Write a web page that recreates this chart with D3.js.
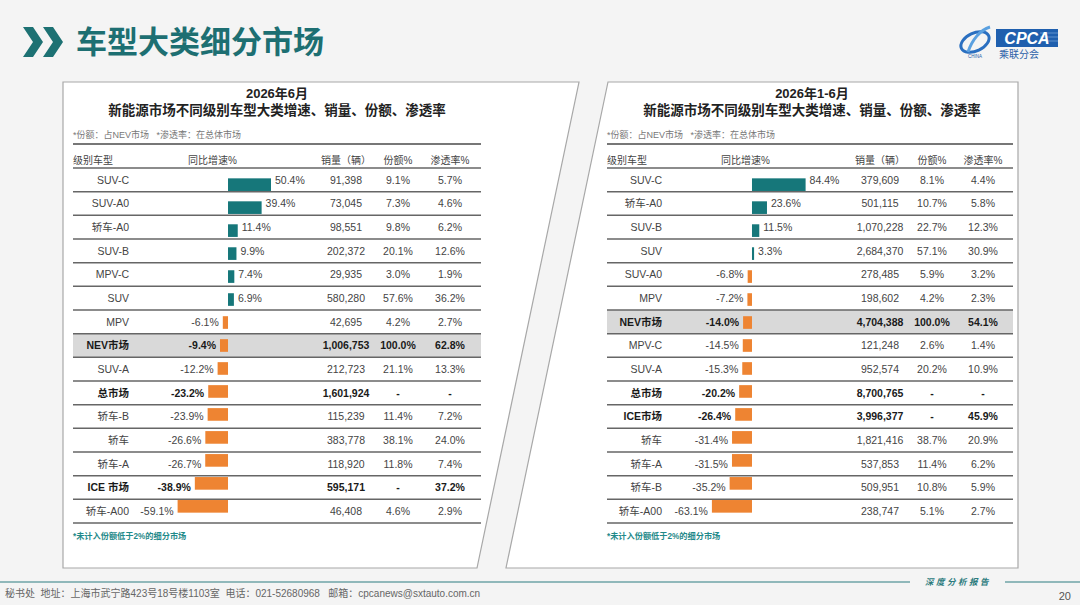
<!DOCTYPE html>
<html>
<head>
<meta charset="utf-8">
<script src="https://cdn.jsdelivr.net/npm/d3@7"></script>
<style>
  html, body { margin: 0; padding: 0; background: #f4f4f4; }
  svg { display: block; }
</style>
</head>
<body>
<div id="chart-container"></div>
<script>
// June 2026
const leftCategories = ["SUV-C", "SUV-A0", "轿车-A0", "SUV-B", "MPV-C", "SUV", "MPV", "NEV市场", "SUV-A", "总市场", "轿车-B", "轿车", "轿车-A", "ICE 市场", "轿车-A00"];
const leftGrowth = [50.4, 39.4, 11.4, 9.9, 7.4, 6.9, -6.1, -9.4, -12.2, -23.2, -23.9, -26.6, -26.7, -38.9, -59.1];
const leftSales = [91398, 73045, 98551, 202372, 29935, 580280, 42695, 1006753, 212723, 1601924, 115239, 383778, 118920, 595171, 46408];
const leftShare = [9.1, 7.3, 9.8, 20.1, 3.0, 57.6, 4.2, 100.0, 21.1, null, 11.4, 38.1, 11.8, null, 4.6];
const leftPenetration = [5.7, 4.6, 6.2, 12.6, 1.9, 36.2, 2.7, 62.8, 13.3, null, 7.2, 24.0, 7.4, 37.2, 2.9];

// Jan-Jun 2026
const rightCategories = ["SUV-C", "轿车-A0", "SUV-B", "SUV", "SUV-A0", "MPV", "NEV市场", "MPV-C", "SUV-A", "总市场", "ICE市场", "轿车", "轿车-A", "轿车-B", "轿车-A00"];
const rightGrowth = [84.4, 23.6, 11.5, 3.3, -6.8, -7.2, -14.0, -14.5, -15.3, -20.2, -26.4, -31.4, -31.5, -35.2, -63.1];
const rightSales = [379609, 501115, 1070228, 2684370, 278485, 198602, 4704388, 121248, 952574, 8700765, 3996377, 1821416, 537853, 509951, 238747];
const rightShare = [8.1, 10.7, 22.7, 57.1, 5.9, 4.2, 100.0, 2.6, 20.2, null, null, 38.7, 11.4, 10.8, 5.1];
const rightPenetration = [4.4, 5.8, 12.3, 30.9, 3.2, 2.3, 54.1, 1.4, 10.9, null, 45.9, 20.9, 6.2, 5.9, 2.7];

const headers = ["级别车型", "同比增速%", "销量（辆）", "份额%", "渗透率%"];
const boldRows = ["NEV市场", "总市场", "ICE 市场", "ICE市场"];
const highlightRow = "NEV市场";

const W = 1080, H = 605;
const teal = "#16777a", orange = "#ee8432";
const fontCN = "'Liberation Sans', 'Noto Sans CJK SC', sans-serif";

const svg = d3.select("#chart-container").append("svg")
    .attr("width", W)
    .attr("height", H)
    .style("font-family", fontCN);

svg.append("rect").attr("width", W).attr("height", H).attr("fill", "#f4f4f4");

// page title with chevrons
[0, 20].forEach(dx => {
    svg.append("polygon")
        .attr("points", [[23, 27], [33, 27], [43, 42], [33, 57], [23, 57], [33, 42]].map(p => [p[0] + dx, p[1]].join(",")).join(" "))
        .attr("fill", "#1d7173");
});
svg.append("text")
    .attr("x", 76).attr("y", 53)
    .attr("font-size", 31).attr("font-weight", "bold")
    .attr("fill", "#1d6f72")
    .attr("font-family", "'Noto Sans CJK SC', sans-serif")
    .text("车型大类细分市场");

// logo (rough)
const logo = svg.append("g");
logo.append("ellipse").attr("cx", 975).attr("cy", 42).attr("rx", 15).attr("ry", 9)
    .attr("fill", "none").attr("stroke", "#2a6fc0").attr("stroke-width", 3)
    .attr("transform", "rotate(-25 975 42)");
logo.append("path").attr("d", "M968,52 C972,40 980,30 990,27").attr("fill", "none").attr("stroke", "#5aa0e0").attr("stroke-width", 3);
logo.append("text").attr("x", 975).attr("y", 58).attr("text-anchor", "middle").attr("font-size", 4.5).attr("fill", "#2a5fa8").text("CHINA");
logo.append("rect").attr("x", 996).attr("y", 29).attr("width", 62).attr("height", 18).attr("fill", "#1f5fae");
[33, 37, 41].forEach(y => logo.append("line").attr("x1", 1040).attr("x2", 1058).attr("y1", y).attr("y2", y).attr("stroke", "#6f9fd6").attr("stroke-width", 0.8));
logo.append("text").attr("x", 1027).attr("y", 44).attr("text-anchor", "middle")
    .attr("font-size", 16).attr("font-style", "italic").attr("font-weight", "bold").attr("fill", "#fff").text("CPCA");
logo.append("text").attr("x", 999).attr("y", 58).attr("font-size", 10).attr("fill", "#2a5fa8")
    .attr("font-family", "'Noto Sans CJK SC', sans-serif").text("乘联分会");

// panels
const panelTop = 82, panelBottom = 568;
svg.append("polygon")
    .attr("points", `63,${panelTop} 579,${panelTop} 477,${panelBottom} 63,${panelBottom}`)
    .attr("fill", "#fff").attr("stroke", "#a8a8a8").attr("stroke-width", 1.2);
svg.append("polygon")
    .attr("points", `608,${panelTop} 1018,${panelTop} 1018,${panelBottom} 506,${panelBottom}`)
    .attr("fill", "#fff").attr("stroke", "#a8a8a8").attr("stroke-width", 1.2);

function drawPanel(cfg) {
    const g = svg.append("g");
    const tableTop = 168, tableBottom = 523;
    const fs = 10.5;

    g.append("text").attr("x", cfg.center).attr("y", 98).attr("text-anchor", "middle")
        .attr("font-size", 13).attr("font-weight", "bold").attr("fill", "#222").text(cfg.title1);
    g.append("text").attr("x", cfg.center).attr("y", 115).attr("text-anchor", "middle")
        .attr("font-size", 13.5).attr("font-weight", "bold").attr("fill", "#222")
        .attr("font-family", "'Noto Sans CJK SC', sans-serif")
        .text("新能源市场不同级别车型大类增速、销量、份额、渗透率");
    g.append("text").attr("x", cfg.x0).attr("y", 138)
        .attr("font-size", 9).attr("fill", "#777").attr("xml:space", "preserve")
        .text("*份额：占NEV市场   *渗透率：在总体市场");

    // header
    g.append("line").attr("x1", cfg.x0).attr("x2", cfg.x1).attr("y1", 144).attr("y2", 144)
        .attr("stroke", "#4a4a4a").attr("stroke-width", 1.5);
    const hx = [cfg.x0, cfg.colGrowthHead, cfg.colSales, cfg.colShare, cfg.colPen];
    const ha = ["start", "start", "middle", "middle", "middle"];
    headers.forEach((h, i) => {
        g.append("text").attr("x", hx[i]).attr("y", 164).attr("text-anchor", ha[i])
            .attr("font-size", 10).attr("fill", "#444").text(h);
    });

    const yRow = d3.scaleBand().domain(cfg.categories).range([tableTop, tableBottom]);
    const yBar = d3.scaleBand().domain(cfg.categories).range([tableTop, tableBottom]).padding(0.45);
    const x = d3.scaleLinear().domain(cfg.domain).range(cfg.range);

    const rows = cfg.categories.map((c, i) => ({
        cat: c, growth: cfg.growth[i], sales: cfg.sales[i], share: cfg.share[i], pen: cfg.pen[i]
    }));

    // highlight
    g.append("rect").attr("x", cfg.x0).attr("width", cfg.x1 - cfg.x0)
        .attr("y", yRow(highlightRow)).attr("height", yRow.bandwidth())
        .attr("fill", "#d9d9d9");

    // separators
    g.selectAll(".sep").data([tableTop].concat(cfg.categories.map(c => yRow(c) + yRow.bandwidth())))
        .enter().append("line")
        .attr("x1", cfg.x0).attr("x2", cfg.x1)
        .attr("y1", d => d).attr("y2", d => d)
        .attr("stroke", "#666").attr("stroke-width", 1.5);

    // bars
    g.selectAll(".bar").data(rows).enter().append("rect")
        .attr("x", d => x(Math.min(0, d.growth)))
        .attr("width", d => Math.max(1.2, Math.abs(x(d.growth) - x(0))))
        .attr("y", d => yBar(d.cat))
        .attr("height", yBar.bandwidth())
        .attr("fill", d => d.growth >= 0 ? teal : orange);

    const ty = d => yRow(d.cat) + yRow.bandwidth() / 2 + 3.8;
    const weight = d => boldRows.includes(d.cat) ? "bold" : "normal";
    const color = d => boldRows.includes(d.cat) ? "#1a1a1a" : "#444";
    const fmtPct = v => v == null ? "-" : v.toFixed(1) + "%";

    g.selectAll(".cat").data(rows).enter().append("text")
        .attr("x", cfg.labelRight).attr("y", ty).attr("text-anchor", "end")
        .attr("font-size", fs).attr("font-weight", weight).attr("fill", color)
        .text(d => d.cat);

    g.selectAll(".glabel").data(rows).enter().append("text")
        .attr("x", d => d.growth >= 0 ? x(d.growth) + 4 : x(d.growth) - 4)
        .attr("y", ty)
        .attr("text-anchor", d => d.growth >= 0 ? "start" : "end")
        .attr("font-size", fs).attr("font-weight", weight).attr("fill", color)
        .text(d => fmtPct(d.growth));

    g.selectAll(".sales").data(rows).enter().append("text")
        .attr("x", cfg.colSales).attr("y", ty).attr("text-anchor", "middle")
        .attr("font-size", fs).attr("font-weight", weight).attr("fill", color)
        .text(d => d3.format(",")(d.sales));

    g.selectAll(".share").data(rows).enter().append("text")
        .attr("x", cfg.colShare).attr("y", ty).attr("text-anchor", "middle")
        .attr("font-size", fs).attr("font-weight", weight).attr("fill", color)
        .text(d => fmtPct(d.share));

    g.selectAll(".pen").data(rows).enter().append("text")
        .attr("x", cfg.colPen).attr("y", ty).attr("text-anchor", "middle")
        .attr("font-size", fs).attr("font-weight", weight).attr("fill", color)
        .text(d => fmtPct(d.pen));

    g.append("text").attr("x", cfg.x0).attr("y", 539)
        .attr("font-size", 8.2).attr("font-weight", "bold").attr("fill", "#1f8a8a")
        .text("*未计入份额低于2%的细分市场");
}

drawPanel({
    title1: "2026年6月", center: 277, x0: 73, x1: 481,
    colGrowthHead: 188, colSales: 346, colShare: 398, colPen: 450, labelRight: 129,
    domain: [-59.1, 50.4], range: [177.6, 271],
    categories: leftCategories, growth: leftGrowth, sales: leftSales, share: leftShare, pen: leftPenetration
});

drawPanel({
    title1: "2026年1-6月", center: 812, x0: 607, x1: 1013,
    colGrowthHead: 721, colSales: 880, colShare: 932, colPen: 983, labelRight: 662,
    domain: [-63.1, 84.4], range: [711.9, 805.6],
    categories: rightCategories, growth: rightGrowth, sales: rightSales, share: rightShare, pen: rightPenetration
});

// footer
svg.append("line").attr("x1", 0).attr("x2", 910).attr("y1", 582).attr("y2", 582)
    .attr("stroke", "#6fa5a7").attr("stroke-width", 1.5);
svg.append("line").attr("x1", 1005).attr("x2", 1080).attr("y1", 582).attr("y2", 582)
    .attr("stroke", "#6fa5a7").attr("stroke-width", 1.5);
svg.append("text").attr("x", 958).attr("y", 585).attr("text-anchor", "middle")
    .attr("font-size", 8.5).attr("font-style", "italic").attr("font-weight", "bold")
    .attr("letter-spacing", 2.5).attr("fill", "#2b7b7d")
    .attr("font-family", "'Noto Sans CJK SC', sans-serif")
    .text("深度分析报告");
svg.append("text").attr("x", 5).attr("y", 597)
    .attr("font-size", 10).attr("fill", "#666").attr("xml:space", "preserve")
    .text("秘书处  地址：上海市武宁路423号18号楼1103室  电话：021-52680968   邮箱：cpcanews@sxtauto.com.cn");
svg.append("text").attr("x", 1071).attr("y", 600).attr("text-anchor", "end")
    .attr("font-size", 11).attr("fill", "#555").text("20");
</script>
</body>
</html>
